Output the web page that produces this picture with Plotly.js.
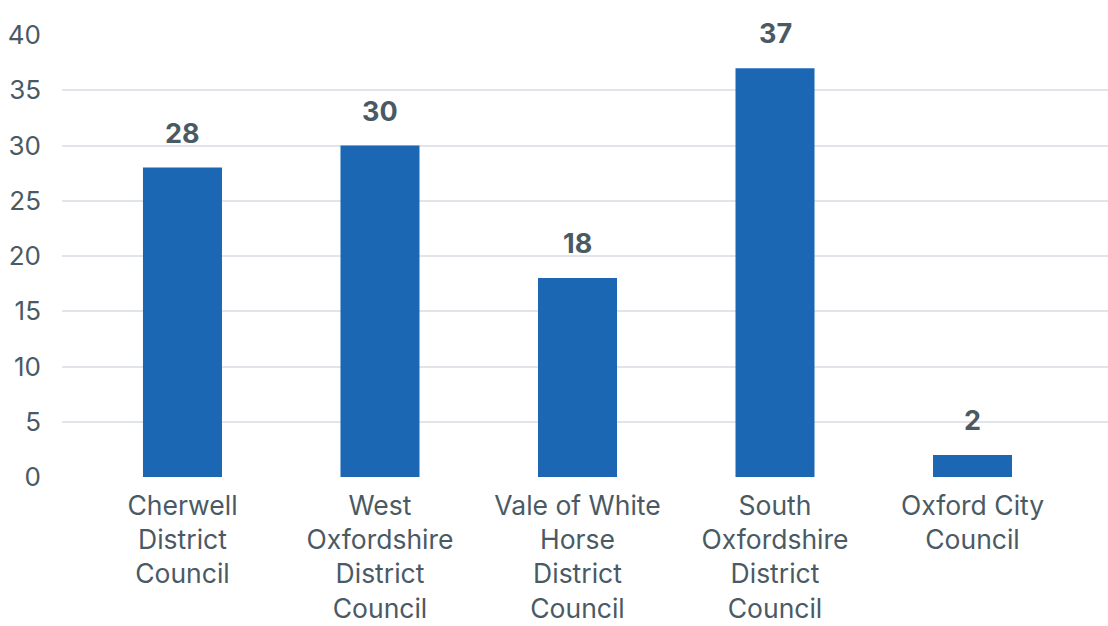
<!DOCTYPE html>
<html>
<head>
<meta charset="utf-8">
<script src="https://cdn.plot.ly/plotly-3.0.1.min.js"></script>
<style>html,body{margin:0;padding:0;background:#fff;}#chart{width:1108px;height:626px;}</style>
</head>
<body>
<div id="chart"></div>
<script>
const categories = ["Cherwell<br>District<br>Council", "West<br>Oxfordshire<br>District<br>Council", "Vale of White<br>Horse<br>District<br>Council", "South<br>Oxfordshire<br>District<br>Council", "Oxford City<br>Council"];
const values = [28, 30, 18, 37, 2];
const yTicks = [0, 5, 10, 15, 20, 25, 30, 35, 40];

const font = "Inter, Liberation Sans, Arial, sans-serif";
const textColor = "#4a5a65";

const annotations = categories.map((c, i) => ({
  x: c, y: values[i], xref: "x", yref: "y",
  text: "<b>" + values[i] + "</b>",
  showarrow: false, yanchor: "bottom", yshift: 16,
  font: {family: font, size: 27, color: textColor}
}));

Plotly.newPlot("chart", [{
  type: "bar",
  x: categories,
  y: values,
  width: 0.4,
  marker: {color: "#1b67b3"},
  hoverinfo: "x+y"
}], {
  width: 1108, height: 626,
  margin: {l: 62, r: 0, t: 35, b: 149},
  paper_bgcolor: "#fff", plot_bgcolor: "#fff",
  showlegend: false,
  font: {family: font, size: 27, color: textColor},
  xaxis: {
    type: "category",
    range: [-0.61, 4.686],
    showgrid: false, zeroline: false, showline: false,
    ticks: "", ticklabelstandoff: 10,
    tickfont: {family: font, size: 26.5, color: textColor}
  },
  yaxis: {
    range: [0, 40],
    tickvals: yTicks,
    showgrid: true, gridcolor: "#e1e5ea", gridwidth: 2,
    zeroline: false, showline: false,
    ticks: "", ticklabelstandoff: 20,
    tickfont: {family: font, size: 26, color: textColor}
  },
  annotations: annotations
}, {displayModeBar: false, staticPlot: true});
</script>
</body>
</html>
